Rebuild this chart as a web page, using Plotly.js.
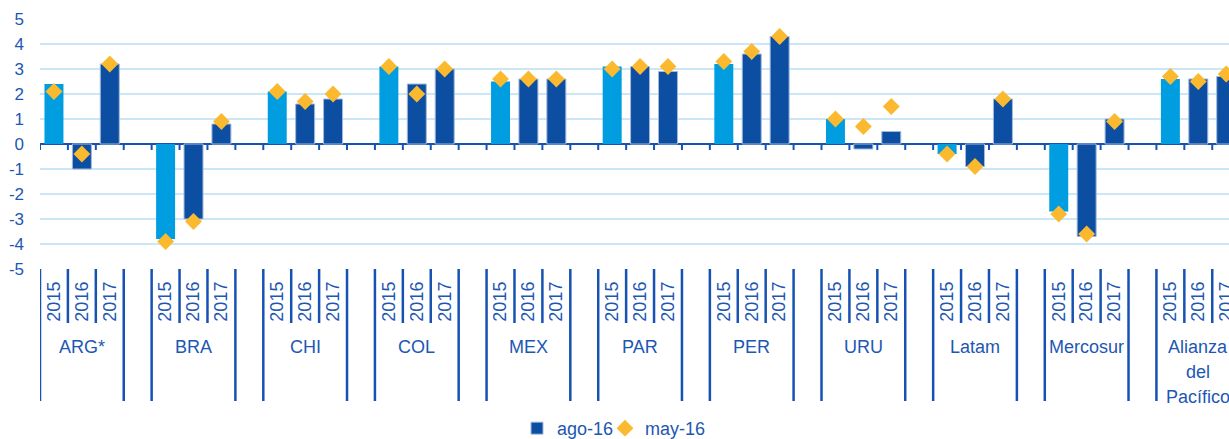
<!DOCTYPE html>
<html>
<head>
<meta charset="utf-8">
<script src="https://cdn.plot.ly/plotly-3.0.1.min.js"></script>
<style>
  html, body { margin: 0; padding: 0; background: #ffffff; }
  #chart { width: 1229px; height: 439px; }
</style>
</head>
<body>
<div id="chart"></div>
<script>
// ---- data ----
const categories = ['ARG*', 'BRA', 'CHI', 'COL', 'MEX', 'PAR', 'PER', 'URU', 'Latam', 'Mercosur', 'Alianza del Pacífico'];
const years = ['2015', '2016', '2017'];
// growth forecasts (%), three years per group, in category order
const ago16 = [
  2.4, -1.0, 3.2,
  -3.8, -3.0, 0.8,
  2.1, 1.6, 1.8,
  3.1, 2.4, 3.0,
  2.5, 2.6, 2.6,
  3.1, 3.1, 2.9,
  3.2, 3.6, 4.3,
  1.0, -0.2, 0.5,
  -0.4, -0.9, 1.8,
  -2.7, -3.7, 1.0,
  2.6, 2.6, 2.7
];
const may16 = [
  2.1, -0.4, 3.2,
  -3.9, -3.1, 0.9,
  2.1, 1.7, 2.0,
  3.1, 2.0, 3.0,
  2.6, 2.6, 2.6,
  3.0, 3.1, 3.1,
  3.3, 3.7, 4.3,
  1.0, 0.7, 1.5,
  -0.4, -0.9, 1.8,
  -2.8, -3.6, 0.9,
  2.7, 2.5, 2.8
];
const yTicks = [-5, -4, -3, -2, -1, 0, 1, 2, 3, 4, 5];
const yTickText = ['-5', '-4', '-3', '-2', '-1', '0', '1', '2', '3', '4', '5'];

// ---- styling ----
const TEXT = '#1d57b3';
const LINE = '#1652b3';
const DARK = '#0b4ea2';
const LIGHT = '#009ee0';
const GOLD = '#fbb92f';
const GRID = '#c9e7f6';
const FONT = 'Liberation Sans, Arial, sans-serif';

// slot layout: 3 years per group plus one blank slot between groups
const SLOTS = years.length + 1;
const xs = [], yearLbl = [];
categories.forEach((c, g) => years.forEach((y, j) => { xs.push(g * SLOTS + j); yearLbl.push(y); }));

const firstX = [], firstV = [], restX = [], restV = [];
xs.forEach((x, i) => {
  if (i % years.length === 0) { firstX.push(x); firstV.push(ago16[i]); }
  else { restX.push(x); restV.push(ago16[i]); }
});

const barW = 0.68;
const traces = [
  { type: 'bar', x: firstX, y: firstV, width: barW, marker: { color: LIGHT }, showlegend: false, name: 'ago-16', hoverinfo: 'y' },
  { type: 'bar', x: restX, y: restV, width: barW, marker: { color: DARK, line: { color: '#a3b8db', width: 1 } },
    name: 'ago-16', hoverinfo: 'y', legend: 'legend' },
  { type: 'scatter', mode: 'markers', x: xs, y: may16, name: 'may-16', legend: 'legend2',
    marker: { symbol: 'diamond', size: 13, color: GOLD } }
];

// shapes: ticks on zero line and divider lines in label area
const shapes = [];
const totalSlots = categories.length * SLOTS;
for (let k = 0; k <= totalSlots; k++) {
  shapes.push({ type: 'line', xref: 'x', yref: 'y', x0: k - 0.5, x1: k - 0.5, y0: 0, y1: -0.24,
    line: { color: LINE, width: 2 } });
}
const shortEnd = -0.216, longEnd = -0.528;
categories.forEach((c, g) => {
  const s = g * SLOTS;
  shapes.push({ type: 'line', xref: 'x', yref: 'paper', x0: s - 0.5, x1: s - 0.5, y0: 0, y1: longEnd, line: { color: LINE, width: 2.5 } });
  shapes.push({ type: 'line', xref: 'x', yref: 'paper', x0: s + years.length - 0.5, x1: s + years.length - 0.5, y0: 0, y1: longEnd, line: { color: LINE, width: 2.5 } });
  for (let j = 1; j < years.length; j++) {
    shapes.push({ type: 'line', xref: 'x', yref: 'paper', x0: s + j - 0.5, x1: s + j - 0.5, y0: 0, y1: shortEnd, line: { color: LINE, width: 2.5 } });
  }
});

const annotations = [];
categories.forEach((c, g) => {
  c.split(' ').forEach((word, li) => {
    annotations.push({
      xref: 'x', yref: 'paper', x: g * SLOTS + (years.length - 1) / 2, y: -0.262 - li * 0.1,
      xanchor: 'center', yanchor: 'top', showarrow: false,
      text: word,
      font: { family: FONT, size: 18, color: TEXT }
    });
  });
});

const legendBase = {
  orientation: 'h', xanchor: 'left', xref: 'container',
  y: 0.024, yanchor: 'middle', yref: 'container',
  font: { family: FONT, size: 18, color: TEXT }, itemwidth: 30,
  bgcolor: 'rgba(0,0,0,0)'
};

const layout = {
  width: 1229, height: 439,
  margin: { l: 40, r: 0, t: 19, b: 170, autoexpand: false },
  paper_bgcolor: '#ffffff', plot_bgcolor: '#ffffff',
  barmode: 'overlay',
  font: { family: FONT, size: 18, color: TEXT },
  xaxis: {
    range: [-0.5, 42.1], showgrid: false, zeroline: false, showline: false,
    tickmode: 'array', tickvals: xs, ticktext: yearLbl, tickangle: -90,
    ticks: '', ticklabelstandoff: 8, ticklabeloverflow: 'allow',
    tickfont: { family: FONT, size: 18, color: TEXT }
  },
  yaxis: {
    range: [-5, 5], tickmode: 'array', tickvals: yTicks, ticktext: yTickText,
    showgrid: true, gridcolor: GRID, gridwidth: 1.5,
    zeroline: true, zerolinecolor: LINE, zerolinewidth: 2.5,
    showline: false, ticks: '', ticklabelstandoff: 15,
    tickfont: { family: FONT, size: 17, color: TEXT }
  },
  legend: Object.assign({}, legendBase, { x: 517 / 1229 }),
  legend2: Object.assign({}, legendBase, { x: 605 / 1229 }),
  shapes: shapes,
  annotations: annotations,
  showlegend: true
};

Plotly.newPlot('chart', traces, layout, { displayModeBar: false, staticPlot: true });
</script>
</body>
</html>
